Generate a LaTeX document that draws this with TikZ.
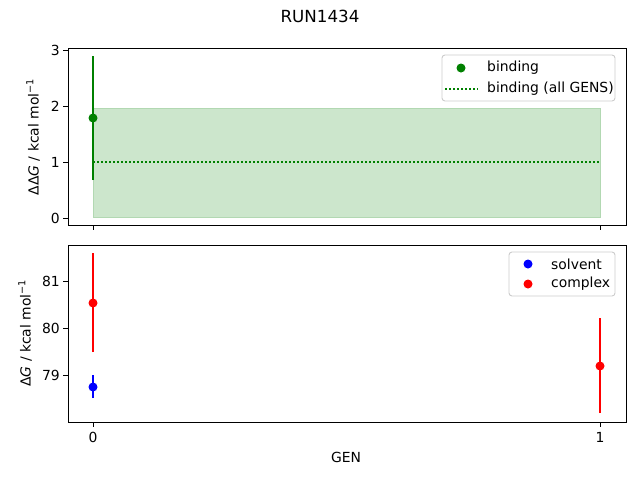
\documentclass[tikz,border=0pt]{standalone}
\usepackage{fontspec}
\setmainfont{DejaVu Sans}
\begin{document}
\begin{tikzpicture}[x=1pt,y=-1pt,
  txt/.style={font=\fontsize{13.9}{16}\selectfont,inner sep=0pt},
  ax/.style={draw=black,line width=0.9pt},
  tk/.style={line width=0.9pt},
  mk/.style={circle,inner sep=0pt,minimum size=9pt},
  eb/.style={line width=2pt},
  leg/.style={draw=black!20,fill=white,fill opacity=0.8,rounded corners=3pt,line width=0.9pt}]
\definecolor{mgreen}{RGB}{0,128,0}
\definecolor{shadegreen}{RGB}{204,230,204}
\definecolor{shadeedge}{RGB}{178,216,178}
\useasboundingbox (0,0) rectangle (640,480);
% title
\node[txt,font=\fontsize{16.7}{19}\selectfont] (title) at (320,16) {RUN1434};
% ---------- top axes
\fill[shadegreen] (93,217) rectangle (600,108);
\draw[shadeedge,line width=0.8pt] (93,217) rectangle (600,108);
\draw[mgreen,dotted,line width=2pt] (93,162) -- (600,162);
\draw[mgreen,eb] (93,180) -- (93,56);
\node[mk,fill=mgreen] (g0) at (93,118) {};
\draw[ax] (68,48) rectangle (626,225);
\foreach \v/\y in {0/218,1/162,2/106,3/50}{
  \draw[tk] (68,\y) -- (63,\y);
  \node[txt,anchor=east] at (60,\y) {\v};}
\foreach \x in {93,600}{\draw[tk] (\x,225) -- (\x,230);}
\node[txt,rotate=90] (yl1) at (33,137) {ΔΔ\textit{G} / kcal mol\textsuperscript{−1}};
% legend top
\draw[leg] (442,55) rectangle (615,101);
\node[mk,fill=mgreen] (lg) at (461,68) {};
\node[txt,anchor=west] at (487,68) {binding};
\draw[mgreen,dotted,line width=2pt] (445,89) -- (478,89);
\node[txt,anchor=west] at (487,89) {binding (all GENS)};
% ---------- bottom axes
\draw[red,eb] (93,352) -- (93,253);
\draw[blue,eb] (93,398) -- (93,375);
\draw[red,eb] (600,413) -- (600,318);
\node[mk,fill=red] (r0) at (93,303) {};
\node[mk,fill=blue] (b0) at (93,387) {};
\node[mk,fill=red] (r1) at (600,366) {};
\draw[ax] (68,245) rectangle (626,422);
\foreach \v/\y in {79/375,80/328,81/281}{
  \draw[tk] (68,\y) -- (63,\y);
  \node[txt,anchor=east] at (60,\y) {\v};}
\foreach \x/\l in {93/0,600/1}{\draw[tk] (\x,422) -- (\x,427);
  \node[txt,anchor=north] at (\x,432) {\l};}
\node[txt,rotate=90] (yl2) at (25,333) {Δ\textit{G} / kcal mol\textsuperscript{−1}};
\node[txt] (xl) at (346,457) {GEN};
% legend bottom
\draw[leg] (509,252) rectangle (615,296);
\node[mk,fill=blue] (lb) at (528,264) {};
\node[txt,anchor=west] at (551,264) {solvent};
\node[mk,fill=red] (lr) at (528,284) {};
\node[txt,anchor=west] at (551,284) {complex};
\end{tikzpicture}
\end{document}
